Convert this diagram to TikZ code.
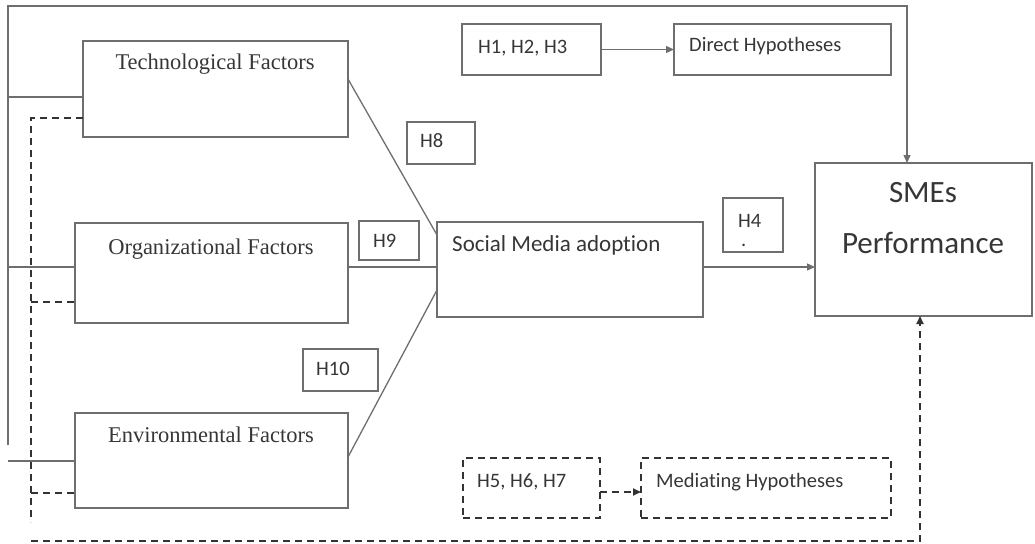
\documentclass[tikz,border=0pt]{standalone}
\usepackage{fontspec}
\setmainfont{Liberation Serif}
\newfontfamily\calib[Ligatures={NoCommon}]{Carlito}
\usetikzlibrary{arrows.meta,calc}
\definecolor{lncol}{HTML}{6E6E6E}
\definecolor{txcol}{HTML}{363636}
\definecolor{dscol}{HTML}{333333}
\tikzset{
  box/.style={draw=lncol, line width=1.3pt, inner sep=0pt, outer sep=0pt, anchor=north west},
  dbox/.style={draw=dscol, line width=1.8pt, dash pattern=on 7pt off 5pt, inner sep=0pt, outer sep=0pt, anchor=north west},
  ftxt/.style={font=\fontsize{22.5}{26}\selectfont, text=txcol, anchor=base, inner sep=0pt},
  ctxt/.style={font=\calib\fontsize{20.5}{24}\selectfont, text=txcol, anchor=base west, inner sep=0pt},
  stxt/.style={font=\calib\fontsize{31}{36}\selectfont, text=txcol, anchor=base, inner sep=0pt},
  conn/.style={draw=lncol, line width=1.3pt},
  dconn/.style={draw=dscol, line width=1.8pt, dash pattern=on 7pt off 5pt},
  tip/.style={-{Triangle[length=8pt,width=7pt]}},
}
\begin{document}
\begin{tikzpicture}[x=1pt,y=-1pt]
\useasboundingbox (0,0) rectangle (1035,543);
% boxes
\node[box, minimum width=265pt, minimum height=96pt] (tech) at (83,41) {};
\node[box, minimum width=273pt, minimum height=100pt] (org) at (75,223) {};
\node[box, minimum width=273pt, minimum height=95pt] (env) at (75,413) {};
\node[box, minimum width=266pt, minimum height=95pt] (sma) at (437,222) {};
\node[box, minimum width=217pt, minimum height=153pt] (sme) at (815,163) {};
\node[box, minimum width=139pt, minimum height=51pt] (h1) at (462,24) {};
\node[box, minimum width=217pt, minimum height=51pt] (direct) at (674,24) {};
\node[box, minimum width=68pt, minimum height=42pt] (h8) at (407,122) {};
\node[box, minimum width=60pt, minimum height=39pt] (h9) at (359,221) {};
\node[box, minimum width=75pt, minimum height=42pt] (h10) at (303,349) {};
\node[box, minimum width=60pt, minimum height=54pt] (h4) at (723,198) {};
\node[dbox, minimum width=137pt, minimum height=60pt] (h5) at (463,458) {};
\node[dbox, minimum width=250pt, minimum height=60pt] (med) at (641,458) {};
% texts
\node[ftxt] (ttech) at (215,70) {Technological Factors};
\node[ftxt] (torg) at (211,254) {Organizational Factors};
\node[ftxt] (tenv) at (211,442) {Environmental Factors};
\node[ctxt, font=\calib\fontsize{23}{26}\selectfont] (tsma) at (452,251) {Social Media adoption};
\node[stxt] (tsme1) at (923,202) {SMEs};
\node[stxt] (tsme2) at (923,253) {Performance};
\node[ctxt] (th1) at (478,54) {H1, H2, H3};
\node[ctxt] (tdirect) at (689,52) {Direct Hypotheses};
\node[ctxt] (th8) at (420,147) {H8};
\node[ctxt] (th9) at (373,247) {H9};
\node[ctxt] (th10) at (316,375) {H10};
\node[ctxt] (th4) at (738,227) {H4};
\node[ctxt] (th4dot) at (741,246) {.};
\node[ctxt] (th5) at (477,487) {H5, H6, H7};
\node[ctxt] (tmed) at (656,487) {Mediating Hypotheses};
% connectors to social media adoption
\draw[conn] ($(tech.north east)+(0,38)$) -- ($(sma.north west)+(0,13)$);
\draw[conn] ($(org.north east)+(0,44)$) -- ($(sma.north west)+(0,45)$);
\draw[conn] ($(env.north east)+(0,44)$) -- ($(sma.north west)+(0,68)$);
\coordinate (smaout) at ($(sma.north east)+(0,45)$);
\draw[conn, tip] (smaout) -- (sme.west |- smaout);
% legend arrows
\draw[conn, tip] (h1.east) -- (direct.west);
\coordinate (h5out) at ($(h5.north east)+(0,34)$);
\draw[dconn, tip] (h5out) -- (med.west |- h5out);
% solid frame (direct)
\coordinate (lbot) at (8,445);
\coordinate (ltop) at (8,6);
\coordinate (rtop) at (907,6);
\draw[conn, tip] (lbot) -- (ltop) -- (rtop) -- (sme.north -| rtop);
\coordinate (s1) at (8,97);
\coordinate (s2) at (8,267);
\coordinate (s3) at (8,461);
\draw[conn] (s1) -- (tech.west |- s1);
\draw[conn] (s2) -- (org.west |- s2);
\draw[conn] (s3) -- (env.west |- s3);
% dashed frame (mediating)
\coordinate (d1) at (31,118);
\coordinate (d2) at (31,302);
\coordinate (d3) at (31,493);
\coordinate (dbot) at (31,522);
\draw[dconn] (tech.west |- d1) -- (d1) -- (dbot);
\draw[dconn] (d2) -- (org.west |- d2);
\draw[dconn] (d3) -- (env.west |- d3);
\coordinate (bl) at (31,541);
\coordinate (br) at (920,541);
\draw[dconn, tip] (bl) -- (br) -- (sme.south -| br);
\end{tikzpicture}
\end{document}
